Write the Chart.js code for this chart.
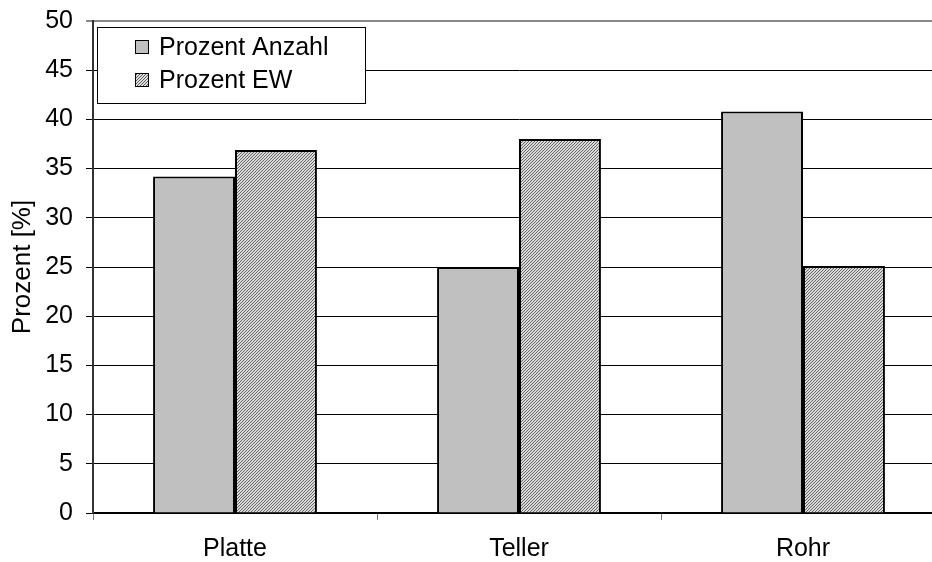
<!DOCTYPE html>
<html>
<head>
<meta charset="utf-8">
<script src="https://cdn.jsdelivr.net/npm/chart.js@4/dist/chart.umd.min.js"></script>
<style>
  html, body { margin: 0; padding: 0; overflow: hidden; background: #fff; }
  #wrap { width: 945px; height: 562px; }
</style>
</head>
<body>
<div id="wrap"><canvas id="c" width="945" height="562"></canvas></div>
<script>
// Kategorien und Werte
const categories = ['Platte', 'Teller', 'Rohr'];
const prozentAnzahl = [34.2, 25.0, 40.8];
const prozentEW = [36.9, 38.0, 25.1];
const seriesNames = ['Prozent Anzahl', 'Prozent EW'];
const yMin = 0, yMax = 50, yStep = 5;

const FONT = 'Liberation Sans, Arial, sans-serif';

// feine Diagonalschraffur für die zweite Reihe
function hatchPattern() {
  const p = document.createElement('canvas');
  p.width = 3; p.height = 3;
  const g = p.getContext('2d');
  g.fillStyle = '#dadada';
  g.fillRect(0, 0, 3, 3);
  g.fillStyle = '#666';
  for (let y = 0; y < 3; y++) {
    for (let x = 0; x < 3; x++) {
      if ((x + y) % 3 === 0) g.fillRect(x, y, 1, 1);
    }
  }
  return g.createPattern(p, 'repeat');
}
const ctx = document.getElementById('c').getContext('2d');
const hatch = hatchPattern();

// Legende als umrandeter Kasten oben links im Diagramm
const boxLegend = {
  id: 'boxLegend',
  afterDraw(chart) {
    const c = chart.ctx;
    const x0 = 97.5, y0 = 27.5, w = 268, h = 76;
    c.save();
    c.fillStyle = '#fff';
    c.fillRect(x0, y0, w, h);
    c.strokeStyle = '#000';
    c.lineWidth = 1;
    c.strokeRect(x0, y0, w, h);
    c.font = '25px ' + FONT;
    c.textBaseline = 'middle';
    chart.data.datasets.forEach((ds, i) => {
      const cy = 47 + i * 33;
      c.fillStyle = ds.backgroundColor;
      c.fillRect(135, cy - 7, 13, 13);
      c.strokeStyle = '#000';
      c.lineWidth = 1;
      c.strokeRect(135.5, cy - 6.5, 13, 13);
      c.fillStyle = '#000';
      c.fillText(ds.label, 159, cy + 1);
    });
    c.restore();
  }
};

new Chart(ctx, {
  type: 'bar',
  data: {
    labels: categories,
    datasets: [
      {
        label: seriesNames[0],
        data: prozentAnzahl,
        backgroundColor: '#c0c0c0',
        borderColor: '#000',
        borderWidth: 2,
        borderSkipped: 'bottom'
      },
      {
        label: seriesNames[1],
        data: prozentEW,
        backgroundColor: hatch,
        borderColor: '#000',
        borderWidth: 2,
        borderSkipped: 'bottom'
      }
    ]
  },
  options: {
    responsive: false,
    animation: false,
    devicePixelRatio: 1,
    layout: { padding: { top: 0, right: 0, left: 0, bottom: 0 } },
    plugins: {
      legend: { display: false },
      tooltip: { enabled: false }
    },
    datasets: {
      bar: { categoryPercentage: 0.577, barPercentage: 1.0 }
    },
    scales: {
      x: {
        offset: true,
        grid: {
          offset: true,
          drawOnChartArea: false,
          drawTicks: true,
          tickLength: 7,
          color: '#777',
          lineWidth: 1
        },
        border: { display: true, color: '#000', width: 2 },
        ticks: {
          color: '#000',
          font: { family: FONT, size: 25 },
          padding: 14
        },
        afterFit(scale) { scale.height = 49; }
      },
      y: {
        min: yMin,
        max: yMax,
        ticks: {
          stepSize: yStep,
          color: '#000',
          font: { family: FONT, size: 25 },
          padding: 13
        },
        grid: {
          drawTicks: true,
          tickLength: 7,
          color: (c) => (c.tick && c.tick.value === yMax ? '#888' : '#000'),
          lineWidth: (c) => (c.tick && c.tick.value === yMax ? 2 : 1)
        },
        border: { display: true, color: '#333', width: 2 },
        title: {
          display: true,
          text: 'Prozent [%]',
          color: '#000',
          font: { family: FONT, size: 26 },
          padding: { top: 7, bottom: 0 }
        },
        afterFit(scale) {
          scale.width = 93;
          scale.paddingTop = 21;
          scale.paddingBottom = 0;
        }
      }
    }
  },
  plugins: [boxLegend]
});
</script>
</body>
</html>
